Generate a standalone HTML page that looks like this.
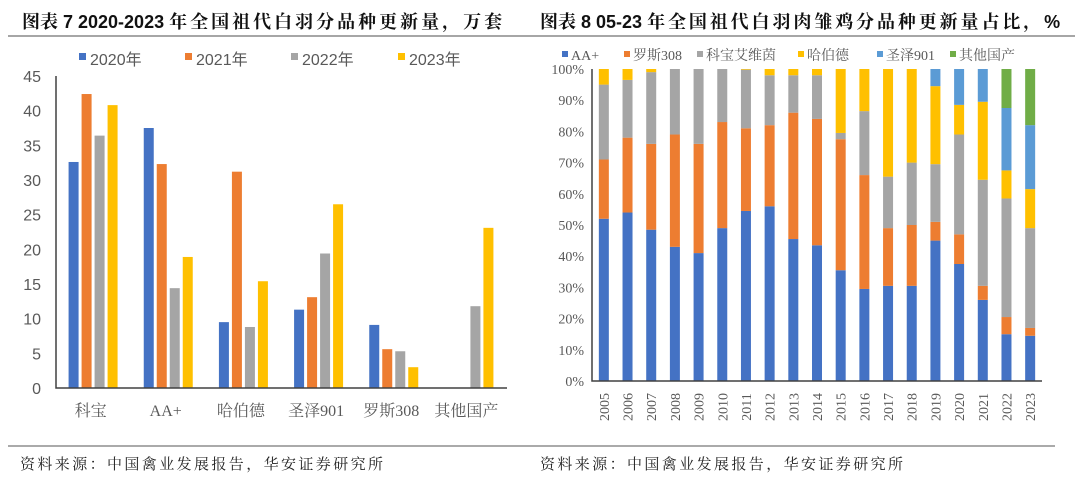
<!DOCTYPE html>
<html><head><meta charset="utf-8">
<style>
body{margin:0;background:#fff;}
svg{display:block;}
.sans{font-family:"Liberation Sans","Noto Sans CJK SC",sans-serif;}
.serif{font-family:"Liberation Serif","Noto Serif CJK SC",serif;}
</style></head><body>
<svg id="root" width="1080" height="480" viewBox="0 0 1080 480" xmlns="http://www.w3.org/2000/svg">
<text x="22" y="28" font-size="18" fill="#111"><tspan class="serif" font-weight="bold">图表</tspan><tspan class="sans" font-weight="bold"> 7 2020-2023 </tspan><tspan class="serif" font-weight="bold" letter-spacing="3">年全国祖代白羽分品种更新量，万套</tspan></text>
<line x1="8" y1="36" x2="540" y2="36" stroke="#a6a6a6" stroke-width="2"/>
<text x="540" y="28" font-size="18" fill="#111"><tspan class="serif" font-weight="bold">图表</tspan><tspan class="sans" font-weight="bold"> 8 05-23 </tspan><tspan class="serif" font-weight="bold" letter-spacing="2.9">年全国祖代白羽肉雏鸡分品种更新量占比，</tspan><tspan class="sans" font-weight="bold">%</tspan></text>
<line x1="530" y1="36" x2="1075" y2="36" stroke="#a6a6a6" stroke-width="2"/>
<line x1="8" y1="446" x2="540" y2="446" stroke="#555" stroke-width="1"/>
<line x1="540" y1="446" x2="1055" y2="446" stroke="#555" stroke-width="1"/>
<text x="20" y="469" font-size="15" letter-spacing="2.4" class="serif" fill="#222">资料来源：中国禽业发展报告，华安证券研究所</text>
<text x="540" y="469" font-size="15" letter-spacing="2.4" class="serif" fill="#222">资料来源：中国禽业发展报告，华安证券研究所</text>
<g id="left"></g>
<g id="right"></g>
</svg>
<script>
// Left chart data
const leftCategories = ["科宝","AA+","哈伯德","圣泽901","罗斯308","其他国产"];
const leftSeriesNames = ["2020年","2021年","2022年","2023年"];
const values2020 = [32.6,37.5,9.5,11.3,9.1,0];
const values2021 = [42.4,32.3,31.2,13.1,5.6,0];
const values2022 = [36.4,14.4,8.8,19.4,5.3,11.8];
const values2023 = [40.8,18.9,15.4,26.5,3.0,23.1];
const leftTicks = [0,5,10,15,20,25,30,35,40,45];

// Right chart data
const years = ["2005","2006","2007","2008","2009","2010","2011","2012","2013","2014","2015","2016","2017","2018","2019","2020","2021","2022","2023"];
const rightSeriesNames = ["AA+","罗斯308","科宝艾维茵","哈伯德","圣泽901","其他国产"];
const shareAA = [52,54,48.5,43,41,49,54.5,56,45.5,43.5,35.5,29.5,30.5,30.5,45,37.5,26,15,14.5];
const shareRoss = [19,24,27.5,36,35,34,26.5,26,40.5,40.5,42,36.5,18.5,19.5,6,9.5,4.5,5.5,2.5];
const shareCobb = [24,18.5,23,21,24,17,18.8,16,12,14,2,20.5,16.5,20,18.5,32,34,38,32];
const shareHubbard = [5,3.5,1,0,0,0,0.2,2,2,2,20.5,13.5,34.5,30,25,9.5,25,9,12.5];
const shareSZ = [0,0,0,0,0,0,0,0,0,0,0,0,0,0,5.5,11.5,10.5,20,20.5];
const shareOther = [0,0,0,0,0,0,0,0,0,0,0,0,0,0,0,0,0,12.5,18];
const rightTicks = [0,10,20,30,40,50,60,70,80,90,100];

const colors = ["#4472c4","#ed7d31","#a5a5a5","#ffc000","#5b9bd5","#70ad47"];
const NS = "http://www.w3.org/2000/svg";
function mk(parent, tag, attrs, text){
  const el = document.createElementNS(NS, tag);
  for (const k in attrs) el.setAttribute(k, attrs[k]);
  if (text !== undefined) el.textContent = text;
  parent.appendChild(el);
  return el;
}

// ---- Left chart ----
(function(){
  const g = document.getElementById('left');
  const x0 = 56, x1 = 507, yTop = 76, yBot = 388, maxV = 45;
  const yS = v => yBot - (v / maxV) * (yBot - yTop);
  const step = (x1 - x0) / leftCategories.length;
  leftTicks.forEach(t => {
    const tx = mk(g, 'text', {x: 41, y: yS(t) + 6, 'font-size': 16, 'text-anchor': 'end', fill: '#595959', class: 'sans'}, String(t));
    
    
  });
  const series = [values2020, values2021, values2022, values2023];
  series.forEach((vals, s) => {
    vals.forEach((v, i) => {
      if (v <= 0) return;
      const cx = x0 + step * (i + 0.5);
      const bx = cx - 25 + s * 13;
      const r = mk(g, 'rect', {x: bx, y: yS(v), width: 10, height: yBot - yS(v), fill: colors[s]});
      
      
    });
  });
  const ax = mk(g, 'path', {d: `M${x0} ${yTop} V${yBot} H${x1}`, stroke: '#404040', 'stroke-width': 1.5, fill: 'none'});
  
  
  leftCategories.forEach((c, i) => {
    const t = mk(g, 'text', {x: x0 + step * (i + 0.5) - 3, y: 416, 'font-size': 16, 'text-anchor': 'middle', fill: '#595959', class: 'serif'}, c);
    
    
  });
  const lx = [79, 185, 291, 398];
  leftSeriesNames.forEach((n, s) => {
    const r = mk(g, 'rect', {x: lx[s], y: 53, width: 7, height: 7, fill: colors[s]});
    
    
    const t = mk(g, 'text', {x: lx[s] + 11, y: 65, 'font-size': 16, fill: '#595959', class: 'sans'}, n);
    
    
  });
})();

// ---- Right chart ----
(function(){
  const g = document.getElementById('right');
  const x0 = 592, x1 = 1042, yTop = 69, yBot = 381;
  const yS = v => yBot - (v / 100) * (yBot - yTop);
  const step = (x1 - x0) / years.length;
  rightTicks.forEach(t => {
    const tx = mk(g, 'text', {x: 584, y: yS(t) + 5, 'font-size': 14, 'text-anchor': 'end', fill: '#595959', class: 'serif'}, t + '%');
    
    
  });
  const series = [shareAA, shareRoss, shareCobb, shareHubbard, shareSZ, shareOther];
  years.forEach((yr, i) => {
    let cum = 0;
    const cx = x0 + step * (i + 0.5);
    series.forEach((vals, s) => {
      const v = vals[i];
      if (v > 0) {
        const r = mk(g, 'rect', {x: cx - 5, y: yS(cum + v), width: 10, height: yS(cum) - yS(cum + v), fill: colors[s]});
        
        
      }
      cum += v;
    });
    const t = mk(g, 'text', {x: 0, y: 0, 'font-size': 14, 'text-anchor': 'middle', fill: '#595959', class: 'serif', transform: `translate(${cx + 5},${407}) rotate(-90)`}, yr);
    
    
  });
  const ax = mk(g, 'path', {d: `M${x0} ${yTop} V${yBot} H${x1}`, stroke: '#404040', 'stroke-width': 1.5, fill: 'none'});
  
  
  const lx = [562, 624, 697, 798, 877, 950];
  rightSeriesNames.forEach((n, s) => {
    const r = mk(g, 'rect', {x: lx[s], y: 51, width: 6, height: 6, fill: colors[s]});
    
    
    const t = mk(g, 'text', {x: lx[s] + 9, y: 60, 'font-size': 14, fill: '#595959', class: 'serif'}, n);
    
    
  });
})();
</script>
</body></html>
